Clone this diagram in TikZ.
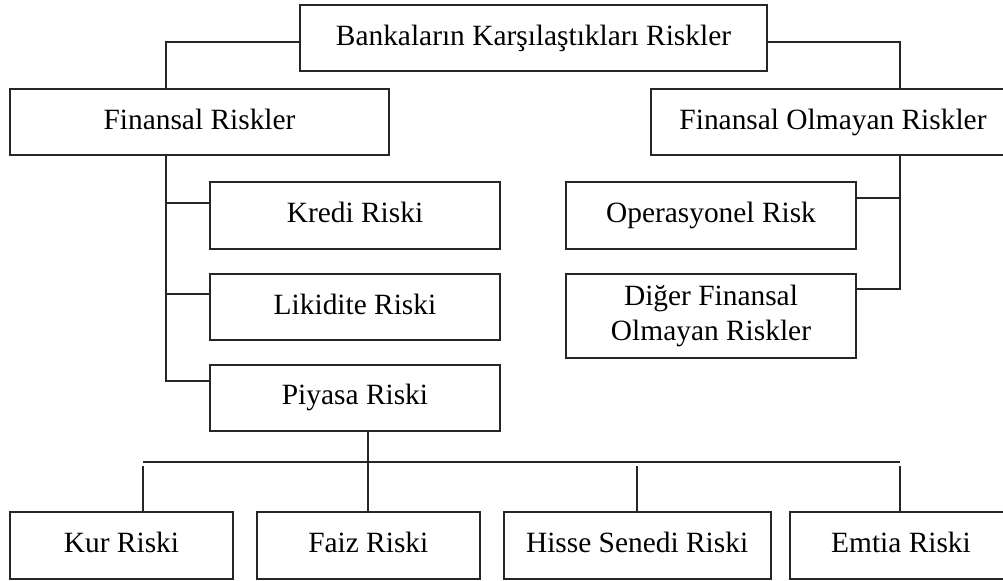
\documentclass[tikz,border=0pt]{standalone}
\usepackage{fontspec}
\setmainfont{Liberation Serif}
\usetikzlibrary{positioning}

\begin{document}
\begin{tikzpicture}[x=0.5pt, y=-0.5pt, line width=0.9pt, kutu/.style={draw=black!85, shape=rectangle, inner sep=0pt, minimum height=33pt, text depth=3pt, font=\fontsize{14.7}{17.5}\selectfont}]
	\path[use as bounding box, clip] (0,0) rectangle (1003,580);
	\node (ust) [kutu, minimum width=233.5pt] at (533.5,38) {Bankaların Karşılaştıkları Riskler};
	\node (finansal) [kutu, minimum width=189.5pt] at (199.5,122) {Finansal Riskler};
	\node (olmayan) [kutu, minimum width=182pt] at (833,122) {Finansal Olmayan Riskler};
	\node (kredi) [kutu, minimum width=145pt, minimum height=33.5pt] at (355,215.5) {Kredi Riski};
	\node (likidite) [kutu, minimum width=145pt, below=11.5pt of kredi] {Likidite Riski};
	\node (piyasa) [kutu, minimum width=145pt, below=11.5pt of likidite] {Piyasa Riski};
	\node (operasyonel) [kutu, minimum width=145pt, minimum height=33.5pt] at (711,215.5) {Operasyonel Risk};
	\node (diger) [kutu, minimum width=145pt, minimum height=42pt, align=center, below=11.5pt of operasyonel] {Diğer Finansal\\Olmayan Riskler};
	\node (kur) [kutu, minimum width=111.5pt, minimum height=33.5pt] at (121.5,545.5) {Kur Riski};
	\node (faiz) [kutu, minimum width=111.5pt, minimum height=33.5pt, right=11pt of kur] {Faiz Riski};
	\node (hisse) [kutu, minimum width=133.5pt, minimum height=33.5pt, right=11pt of faiz] {Hisse Senedi Riski};
	\node (emtia) [kutu, minimum width=111pt, minimum height=33.5pt] at (901,545.5) {Emtia Riski};

	\coordinate (sol) at (166,155);
	\coordinate (sag) at (900,155);
	\coordinate (busL) at (143,462);
	\coordinate (busR) at (900,462);

	\draw[black!85] ([yshift=-19pt]ust.north west) -| (finansal.north -| sol);
	\draw[black!85] ([yshift=-19pt]ust.north east) -| (olmayan.north -| sag);
	\draw[black!85] (finansal.south -| sol) |- ([yshift=-8.5pt]piyasa.north west);
	\draw[black!85] ([yshift=-11pt]kredi.north west) -- ++(-44,0);
	\draw[black!85] ([yshift=-10.5pt]likidite.north west) -- ++(-44,0);
	\draw[black!85] (olmayan.south -| sag) |- ([yshift=-8pt]diger.north east);
	\draw[black!85] ([yshift=-8.5pt]operasyonel.north east) -- ++(44,0);
	\draw[black!85] (faiz.north) -- (faiz.north |- piyasa.south);
	\draw[black!85] (busL) -- (busR);
	\draw[black!85] (kur.north -| busL) -- ++(0,-45);
	\draw[black!85] (hisse.north) -- ++(0,-45);
	\draw[black!85] (emtia.north -| busR) -- ++(0,-45);
\end{tikzpicture}
\end{document}
